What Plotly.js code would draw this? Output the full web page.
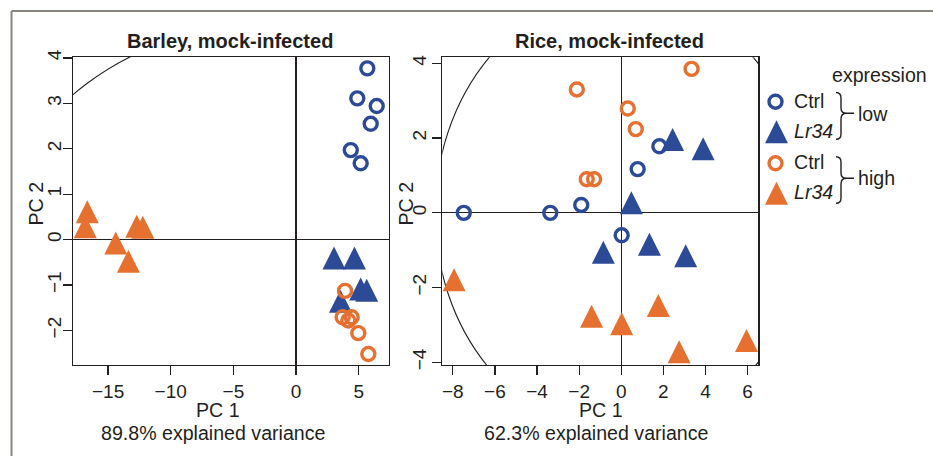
<!DOCTYPE html>
<html><head><meta charset="utf-8">
<script src="https://cdn.plot.ly/plotly-3.0.1.min.js"></script>
<style>html,body{margin:0;padding:0;background:#fff}#chart{width:933px;height:456px}</style>
</head><body><div id="chart"></div>
<script>
// ---- Barley, mock-infected ----
const barleyCtrlLowX  = [5.69, 4.89, 6.44, 5.96, 4.37, 5.16];
const barleyCtrlLowY  = [3.77, 3.11, 2.94, 2.55, 1.97, 1.68];
const barleyLr34LowX  = [3.03, 4.66, 5.16, 5.64, 3.55];
const barleyLr34LowY  = [-0.49, -0.49, -1.17, -1.20, -1.44];
const barleyCtrlHighX = [3.91, 3.72, 4.44, 4.17, 4.97, 5.77];
const barleyCtrlHighY = [-1.13, -1.71, -1.71, -1.78, -2.06, -2.52];
const barleyLr34HighX = [-16.66, -16.82, -12.71, -12.23, -14.39, -13.38];
const barleyLr34HighY = [0.53, 0.20, 0.21, 0.19, -0.16, -0.56];
const barleyEllipse   = [23.6, 4.86];   // semi-axes (PC1, PC2)

// ---- Rice, mock-infected ----
const riceCtrlLowX  = [1.81, 0.78, -7.48, -3.37, -1.90, 0.02];
const riceCtrlLowY  = [1.78, 1.17, 0.00, 0.00, 0.21, -0.60];
const riceLr34LowX  = [2.44, 3.89, 0.48, -0.85, 1.34, 3.06];
const riceLr34LowY  = [1.86, 1.61, 0.17, -1.16, -0.94, -1.25];
const riceCtrlHighX = [3.34, -2.11, 0.31, 0.69, -1.64, -1.29];
const riceCtrlHighY = [3.85, 3.30, 2.79, 2.24, 0.90, 0.90];
const riceLr34HighX = [-7.94, -1.41, 0.02, 1.76, 2.75, 5.95];
const riceLr34HighY = [-1.89, -2.87, -3.07, -2.58, -3.82, -3.52];
const riceEllipse   = [8.84, 5.9];

// ---- tick labels / text ----
const barleyXTicks = [-15, -10, -5, 0, 5];
const barleyYTicks = [-2, -1, 0, 1, 2, 3, 4];
const riceXTicks = [-8, -6, -4, -2, 0, 2, 4, 6];
const riceYTicks = [-4, -2, 0, 2, 4];
const panelTitles = ['Barley, mock-infected', 'Rice, mock-infected'];
const varianceLabels = ['89.8% explained variance', '62.3% explained variance'];
const legendLabels = ['Ctrl', '<i>Lr34</i>', 'Ctrl', '<i>Lr34</i>'];
const legendGroups = ['low', 'high'];

const BLUE = '#2c4a96', ORANGE = '#e5702f', INK = '#231f20';
const FONT = 'Liberation Sans, Arial, Helvetica, sans-serif';
const CIRC = 13, CIRCW = 3.4, TRI = 23, TXT = 19.6;

function circ(x, y, c, xa, ya) {
  return {type: 'scatter', mode: 'markers', x: x, y: y, xaxis: xa, yaxis: ya, hoverinfo: 'skip',
    marker: {symbol: 'circle-open', size: CIRC, color: c, line: {width: CIRCW, color: c}}};
}
function tri(x, y, c, xa, ya) {
  return {type: 'scatter', mode: 'markers', x: x, y: y, xaxis: xa, yaxis: ya, hoverinfo: 'skip',
    marker: {symbol: 'arrow-down', angle: 180, standoff: TRI * 2 / 3, size: TRI, color: c, line: {width: 0}}};
}

const data = [
  tri(barleyLr34LowX, barleyLr34LowY, BLUE, 'x', 'y'),
  circ(barleyCtrlLowX, barleyCtrlLowY, BLUE, 'x', 'y'),
  tri(barleyLr34HighX, barleyLr34HighY, ORANGE, 'x', 'y'),
  circ(barleyCtrlHighX, barleyCtrlHighY, ORANGE, 'x', 'y'),
  tri(riceLr34LowX, riceLr34LowY, BLUE, 'x2', 'y2'),
  circ(riceCtrlLowX, riceCtrlLowY, BLUE, 'x2', 'y2'),
  tri(riceLr34HighX, riceLr34HighY, ORANGE, 'x2', 'y2'),
  circ(riceCtrlHighX, riceCtrlHighY, ORANGE, 'x2', 'y2')
];

// legend keys on a pixel-space overlay axis (x3/y3)
const legKeyX = 775.5, legRowY = [101.7, 135.7, 163.3, 197.1];
data.push({type: 'scatter', mode: 'markers', xaxis: 'x3', yaxis: 'y3', hoverinfo: 'skip', cliponaxis: false,
  x: [legKeyX, legKeyX], y: [legRowY[0], legRowY[2]],
  marker: {symbol: 'circle-open', size: CIRC, color: [BLUE, ORANGE], line: {width: CIRCW, color: [BLUE, ORANGE]}}});
data.push({type: 'scatter', mode: 'markers', xaxis: 'x3', yaxis: 'y3', hoverinfo: 'skip', cliponaxis: false,
  x: [legKeyX + 1, legKeyX + 1], y: [legRowY[1], legRowY[3]],
  marker: {symbol: 'arrow-down', angle: 180, standoff: TRI * 2 / 3, size: TRI, color: [BLUE, ORANGE], line: {width: 0}}});

function axisBase(extra) {
  return Object.assign({
    showgrid: false, zeroline: true, zerolinecolor: INK, zerolinewidth: 1.2,
    showline: true, mirror: true, linecolor: INK, linewidth: 1.3,
    ticks: 'outside', ticklen: 9, tickwidth: 1.2, tickcolor: INK,
    tickfont: {size: 19, color: INK, family: FONT}, fixedrange: true, autorange: false
  }, extra);
}
const W = 933, H = 456;
const px = v => v / W, py = v => 1 - v / H;

const layout = {
  width: W, height: H, margin: {l: 0, r: 0, t: 0, b: 0, pad: 0},
  paper_bgcolor: '#ffffff', plot_bgcolor: 'rgba(0,0,0,0)', showlegend: false,
  font: {family: FONT, color: INK, size: TXT},
  xaxis: axisBase({domain: [px(73), px(389)], range: [-17.8, 7.42], tickvals: barleyXTicks, anchor: 'y'}),
  yaxis: axisBase({domain: [py(364.5), py(57)], range: [-2.75, 4.02], tickvals: barleyYTicks, tickangle: -90, anchor: 'x', ticklabelstandoff: -6}),
  xaxis2: axisBase({domain: [px(442.3), px(758.3)], range: [-8.5, 6.51], tickvals: riceXTicks, anchor: 'y2'}),
  yaxis2: axisBase({domain: [py(365), py(57.3)], range: [-4.07, 4.16], tickvals: riceYTicks, tickangle: -90, anchor: 'x2', ticklabelstandoff: -2}),
  xaxis3: {domain: [0, 1], range: [0, W], visible: false, fixedrange: true, anchor: 'y3'},
  yaxis3: {domain: [0, 1], range: [H, 0], visible: false, fixedrange: true, anchor: 'x3'},
  shapes: [
    {type: 'circle', xref: 'x', yref: 'y', x0: -barleyEllipse[0], x1: barleyEllipse[0], y0: -barleyEllipse[1], y1: barleyEllipse[1],
      line: {color: INK, width: 1.1}, layer: 'below'},
    {type: 'circle', xref: 'x2', yref: 'y2', x0: -riceEllipse[0], x1: riceEllipse[0], y0: -riceEllipse[1], y1: riceEllipse[1],
      line: {color: INK, width: 1.1}, layer: 'below'},
    // outer figure frame
    {type: 'line', xref: 'x3', yref: 'y3', x0: 11.5, x1: W, y0: 11, y1: 11, line: {color: '#8a857f', width: 2}},
    {type: 'line', xref: 'x3', yref: 'y3', x0: 11.5, x1: 11.5, y0: 11, y1: H, line: {color: '#8a857f', width: 2}},
    // braces
    {type: 'path', xref: 'x3', yref: 'y3', line: {color: INK, width: 1.4},
      path: 'M836,92.5 Q841,92.5 841,98 L841,108 Q841,113.3 846.5,113.3 Q841,113.3 841,119 L841,134 Q841,139.3 836,139.3 M846.5,113.3 L854,113.3'},
    {type: 'path', xref: 'x3', yref: 'y3', line: {color: INK, width: 1.4},
      path: 'M836,156.7 Q841,156.7 841,162 L841,173 Q841,178.3 846.5,178.3 Q841,178.3 841,184 L841,198 Q841,203.3 836,203.3 M846.5,178.3 L854,178.3'}
  ],
  annotations: []
};

function note(text, x, y, opts) {
  layout.annotations.push(Object.assign({text: text, x: x, y: y, xref: 'x3', yref: 'y3', showarrow: false,
    xanchor: 'center', yanchor: 'middle', font: {size: TXT, color: INK, family: FONT}}, opts || {}));
}
note('<b>' + panelTitles[0] + '</b>', 229.7, 41.3, {font: {size: 20, color: INK, family: FONT}});
note('<b>' + panelTitles[1] + '</b>', 609.7, 41.3, {font: {size: 20, color: INK, family: FONT}});
note('PC 1', 218.3, 410.1);
note(varianceLabels[0], 212.5, 432.7);
note('PC 1', 601.2, 410.1);
note(varianceLabels[1], 595.8, 432.7);
note('PC 2', 35.5, 204, {textangle: -90});
note('PC 2', 405.5, 204, {textangle: -90});
note('expression', 879.5, 75.1);
note(legendLabels[0], 791.7, 100.7, {xanchor: 'left'});
note(legendLabels[1], 791.7, 130.7, {xanchor: 'left'});
note(legendLabels[2], 791.7, 162.4, {xanchor: 'left'});
note(legendLabels[3], 791.7, 192.4, {xanchor: 'left'});
note(legendGroups[0], 856, 114.4, {xanchor: 'left'});
note(legendGroups[1], 856, 178.4, {xanchor: 'left'});

Plotly.newPlot('chart', data, layout, {staticPlot: true, displayModeBar: false});
</script></body></html>
